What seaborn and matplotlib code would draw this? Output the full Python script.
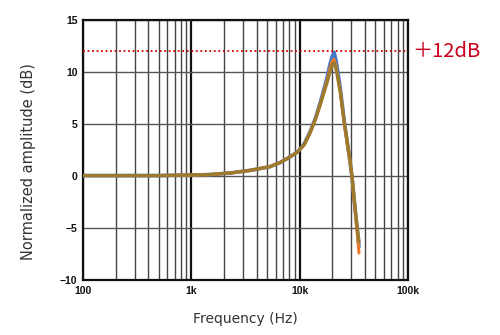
import numpy as np
import pandas as pd
import matplotlib
matplotlib.use("Agg")
import matplotlib.pyplot as plt
import seaborn as sns
from matplotlib.ticker import FixedLocator, NullFormatter

freq = [100, 200, 500, 1000, 1500, 2300, 3500, 5300, 6600, 8000, 9500, 11000,
        12400, 13900, 15400, 16700, 17900, 19000, 19900, 20800, 21700, 22600,
        23600, 26000, 29200, 30500, 32000, 33900, 35300]
series_blue = [0.05, 0.05, 0.05, 0.1, 0.15, 0.3, 0.55, 0.9, 1.3, 1.8, 2.3, 3.1,
               4.2, 5.5, 7.0, 8.3, 9.5, 10.7, 11.5, 11.9, 11.1, 9.9,
               8.6, 5.0, 1.3, -0.2, -2.5, -5.0, -6.8]
series_orange = [0.05, 0.05, 0.05, 0.1, 0.15, 0.3, 0.55, 0.9, 1.3, 1.8, 2.3, 3.0,
                 4.1, 5.4, 6.8, 8.1, 9.2, 10.3, 11.0, 11.2, 10.5, 9.4,
                 8.2, 4.8, 1.3, -0.2, -2.6, -5.3, -7.4]
series_brown = [0.05, 0.05, 0.05, 0.1, 0.15, 0.3, 0.55, 0.9, 1.3, 1.8, 2.3, 3.0,
                4.1, 5.4, 6.8, 8.0, 9.0, 10.0, 10.7, 10.9, 10.3, 9.3,
                8.2, 5.0, 1.5, -0.1, -2.4, -4.9, -6.3]
x_ticks = [100, 1000, 10000, 100000]
x_labels = ["100", "1k", "10k", "100k"]
y_ticks = [-10, -5, 0, 5, 10, 15]
ref_level = 12
ref_label = "＋12dB"

df = pd.concat([
    pd.DataFrame({"freq": freq, "amp": series_blue, "s": "A"}),
    pd.DataFrame({"freq": freq, "amp": series_orange, "s": "B"}),
    pd.DataFrame({"freq": freq, "amp": series_brown, "s": "C"}),
])

sns.set_style("white")
fig = plt.figure(figsize=(5, 3.35), dpi=100)
ax = fig.add_axes([0.166, 0.164, 0.650, 0.776])

# grid
minor = [m * d for d in [100, 1000, 10000] for m in range(2, 10)]
for v in minor:
    ax.axvline(v, color="#444444", lw=1.0, zorder=0)
for v in x_ticks:
    ax.axvline(v, color="#111111", lw=1.6, zorder=0)
for v in y_ticks:
    ax.axhline(v, color="#555555", lw=1.0, zorder=0)

palette = {"A": "#4a78c8", "B": "#f07a28", "C": "#9e7a2c"}
sizes = {"A": 2.6, "B": 2.2, "C": 2.4}
sns.lineplot(data=df, x="freq", y="amp", hue="s", palette=palette,
             size="s", sizes=sizes, legend=False, ax=ax, zorder=3)

ax.axhline(ref_level, color="#d00000", lw=1.3, ls=(0, (1, 1.5)), zorder=4)
ax.text(1.012, ref_level, ref_label, transform=ax.get_yaxis_transform(),
        color="#c8001e", fontsize=14.5, va="center", ha="left",
        family=["Noto Sans CJK JP", "DejaVu Sans"])

ax.set_xscale("log")
ax.set_xlim(100, 100000)
ax.set_ylim(-10, 15)
ax.xaxis.set_major_locator(FixedLocator(x_ticks))
ax.xaxis.set_minor_locator(FixedLocator(minor))
ax.xaxis.set_minor_formatter(NullFormatter())
ax.set_xticks(x_ticks)
ax.set_xticklabels(x_labels)
ax.set_yticks(y_ticks)
ax.set_yticklabels([str(v) if v >= 0 else "\u2212" + str(-v) for v in y_ticks])
ax.tick_params(axis="both", which="both", length=0, pad=4)
for lab in ax.get_xticklabels() + ax.get_yticklabels():
    lab.set_family("Liberation Sans")
    lab.set_fontweight("bold")
    lab.set_fontsize(7.5)
    lab.set_color("#111111")

for sp in ax.spines.values():
    sp.set_visible(True)
    sp.set_color("#111111")
    sp.set_linewidth(1.6)

ax.set_xlabel("Frequency (Hz)", fontsize=10, color="#333333", labelpad=12)
ax.set_ylabel("Normalized amplitude (dB)", fontsize=10.5, color="#333333")
ax.yaxis.set_label_coords(-0.145, 0.455)

fig.savefig("out.png", dpi=100)
